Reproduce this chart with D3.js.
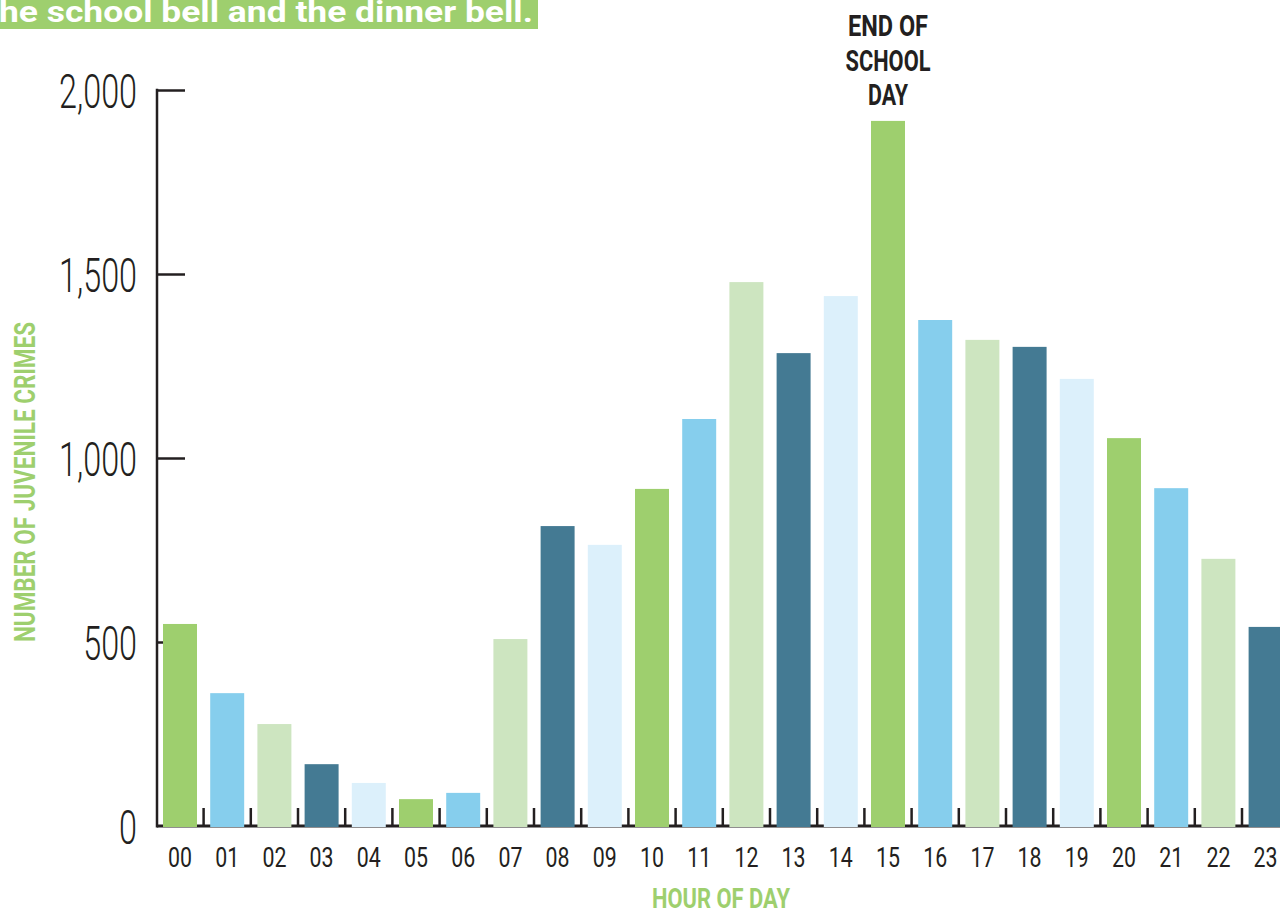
<!DOCTYPE html>
<html>
<head>
<meta charset="utf-8">
<script src="https://cdnjs.cloudflare.com/ajax/libs/d3/7.8.5/d3.min.js"></script>
<style>
  body { margin: 0; background: #ffffff; }
  svg { display: block; }
</style>
</head>
<body>
<div id="chart"></div>
<script>
// data
let hours = ["00","01","02","03","04","05","06","07","08","09","10","11",
             "12","13","14","15","16","17","18","19","20","21","22","23"];
let crimes = [549, 361, 277, 168, 117, 73, 90, 508, 815, 764, 916, 1106,
              1478, 1285, 1440, 1916, 1375, 1321, 1302, 1215, 1054, 918, 726, 541];
let yTicks = [0, 500, 1000, 1500, 2000];
let barColors = ["#9ecf6e", "#86ceed", "#cde5c0", "#447a93", "#dcf0fb"];
let titleText = "the school bell and the dinner bell.";
let noteLines = ["END OF", "SCHOOL", "DAY"];

let width = 1280;
let height = 909;
let ink = "#231f20";
let green = "#9ecf6e";
let condensed = "Roboto, 'Noto Sans', sans-serif";

let svg = d3.select("#chart")
    .append("svg")
    .attr("width", width)
    .attr("height", height);

let x = d3.scaleBand()
    .domain(hours)
    .range([156.4, 1289.2])
    .paddingInner(0.28)
    .paddingOuter(0.14);

let y = d3.scaleLinear()
    .domain([0, 2000])
    .range([826, 90]);

let color = d3.scaleOrdinal()
    .domain([0, 1, 2, 3, 4])
    .range(barColors);

// title strip, cut off at the top left
svg.append("rect")
    .attr("x", 0).attr("y", 0)
    .attr("width", 538).attr("height", 29)
    .attr("fill", green);
svg.append("text")
    .attr("x", -13).attr("y", 22)
    .attr("textLength", 546)
    .attr("lengthAdjust", "spacingAndGlyphs")
    .style("font-family", condensed)
    .style("font-weight", 700)
    .style("font-size", "30px")
    .attr("fill", "#ffffff")
    .text(titleText);

// y axis: ticks point right, labels on the left
let yAxis = d3.axisLeft(y)
    .tickValues(yTicks.filter(d => d > 0))
    .tickSizeInner(-28)
    .tickSizeOuter(0)
    .tickPadding(20)
    .tickFormat(d3.format(","));

let yG = svg.append("g")
    .attr("transform", "translate(157,0)")
    .call(yAxis);
yG.select(".domain").remove();
yG.selectAll(".tick line")
    .attr("stroke", ink)
    .attr("stroke-width", 2.5);
yG.selectAll(".tick text").remove();

svg.append("line")
    .attr("x1", 157).attr("x2", 157)
    .attr("y1", y(2000) - 1.25).attr("y2", y(0) + 1.5)
    .attr("stroke", ink)
    .attr("stroke-width", 2.5);

// tick labels in a thin, narrow face
let labelScale = 0.66;
svg.append("g")
    .selectAll("text")
    .data(yTicks)
    .join("text")
    .attr("transform", d => "translate(137," + y(d) + ") scale(" + labelScale + ",1)")
    .attr("dy", "0.36em")
    .attr("text-anchor", "end")
    .style("font-family", condensed)
    .style("font-weight", 300)
    .style("font-size", "49px")
    .attr("fill", ink)
    .text(d => d3.format(",")(d));

// baseline
svg.append("line")
    .attr("x1", 157).attr("x2", width)
    .attr("y1", y(0)).attr("y2", y(0))
    .attr("stroke", ink)
    .attr("stroke-width", 3);

// small upright ticks between bars
let gap = x.step() * x.paddingInner() / 2;
svg.append("g")
    .selectAll("line")
    .data(hours.slice(1))
    .join("line")
    .attr("x1", d => x(d) - gap)
    .attr("x2", d => x(d) - gap)
    .attr("y1", y(0))
    .attr("y2", y(0) - 18)
    .attr("stroke", ink)
    .attr("stroke-width", 2.5);

// bars
svg.append("g")
    .selectAll("rect")
    .data(crimes)
    .join("rect")
    .attr("x", (d, i) => x(hours[i]))
    .attr("y", d => y(d))
    .attr("width", x.bandwidth())
    .attr("height", d => y(0) + 1 - y(d))
    .attr("fill", (d, i) => color(i % 5));

// hour labels
svg.append("g")
    .selectAll("text")
    .data(hours)
    .join("text")
    .attr("transform", d => "translate(" + (x(d) + x.bandwidth() / 2) + ",867) scale(0.79,1)")
    .attr("text-anchor", "middle")
    .style("font-family", condensed)
    .style("font-weight", 400)
    .style("font-size", "27px")
    .attr("fill", ink)
    .text(d => d);

// axis titles
svg.append("text")
    .attr("x", 652).attr("y", 908)
    .attr("textLength", 138)
    .attr("lengthAdjust", "spacingAndGlyphs")
    .style("font-family", condensed)
    .style("font-weight", 700)
    .style("font-size", "28px")
    .attr("fill", green)
    .text("HOUR OF DAY");

svg.append("text")
    .attr("transform", "translate(35,642) rotate(-90)")
    .attr("textLength", 320)
    .attr("lengthAdjust", "spacingAndGlyphs")
    .style("font-family", condensed)
    .style("font-weight", 700)
    .style("font-size", "30px")
    .attr("fill", green)
    .text("NUMBER OF JUVENILE CRIMES");

// note over the 15:00 bar
let noteX = x("15") + x.bandwidth() / 2;
let noteWidths = [80, 85, 40];
let noteBase = [36, 71, 105];
svg.append("g")
    .selectAll("text")
    .data(noteLines)
    .join("text")
    .attr("x", (d, i) => noteX - noteWidths[i] / 2)
    .attr("y", (d, i) => noteBase[i])
    .attr("textLength", (d, i) => noteWidths[i])
    .attr("lengthAdjust", "spacingAndGlyphs")
    .style("font-family", condensed)
    .style("font-weight", 700)
    .style("font-size", "29px")
    .attr("fill", ink)
    .text(d => d);
</script>
</body>
</html>
